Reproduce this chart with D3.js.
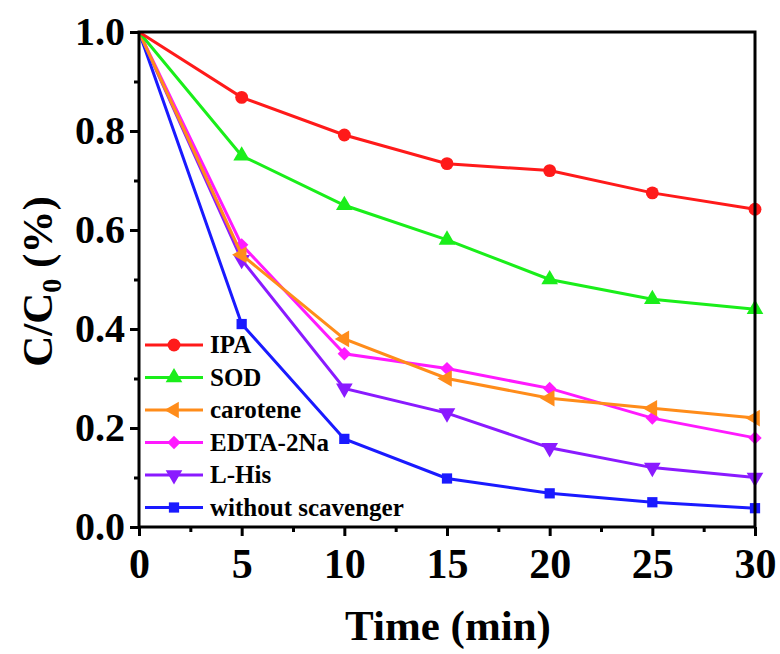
<!DOCTYPE html>
<html>
<head>
<meta charset="utf-8">
<script src="https://cdn.jsdelivr.net/npm/d3@7"></script>
<style>
  body { margin: 0; background: #fff; }
  svg text { font-family: "Liberation Serif", "Times New Roman", serif; font-weight: bold; }
</style>
</head>
<body>
<svg id="chart" width="780" height="654"></svg>
<script>
const times = [0, 5, 10, 15, 20, 25, 30];
const names = ['IPA', 'SOD', 'carotene', 'EDTA-2Na', 'L-His', 'without scavenger'];
const ipa      = [1, 0.868, 0.792, 0.734, 0.72, 0.675, 0.642];
const sod      = [1, 0.75, 0.65, 0.58, 0.50, 0.46, 0.44];
const carotene = [1, 0.55, 0.38, 0.30, 0.26, 0.24, 0.22];
const edta     = [1, 0.57, 0.35, 0.32, 0.28, 0.22, 0.18];
const lhis     = [1, 0.54, 0.28, 0.23, 0.16, 0.12, 0.10];
const without  = [1, 0.41, 0.178, 0.098, 0.068, 0.05, 0.038];
const xTicks = [0, 5, 10, 15, 20, 25, 30];
const yTicks = [0.0, 0.2, 0.4, 0.6, 0.8, 1.0];

const series = [ipa, sod, carotene, edta, lhis, without];
const colors = ['#ff1a1a', '#1aee1a', '#ff8c1a', '#ff1aff', '#8a1aff', '#1a1aff'];
const shapes = [d3.symbolCircle, d3.symbolTriangle, 'left', 'diamond', 'down', d3.symbolSquare];

let svg = d3.select('#chart');
let pLeft = 139, pRight = 755, pTop = 32, pBottom = 527;

let x = d3.scaleLinear().domain([0, 30]).range([pLeft, pRight]);
let y = d3.scaleLinear().domain([0, 1]).range([pBottom, pTop]);

// markers
function marker(g, shape, color) {
  if (shape === 'left') {
    g.append('path').attr('d', d3.symbol(d3.symbolTriangle, 120)()).attr('transform', 'rotate(-90)').attr('fill', color);
  } else if (shape === 'down') {
    g.append('path').attr('d', d3.symbol(d3.symbolTriangle, 120)()).attr('transform', 'rotate(180)').attr('fill', color);
  } else if (shape === 'diamond') {
    g.append('path').attr('d', d3.symbol(d3.symbolSquare, 90)()).attr('transform', 'rotate(45)').attr('fill', color);
  } else {
    let size = shape === d3.symbolCircle ? 130 : shape === d3.symbolSquare ? 105 : 120;
    g.append('path').attr('d', d3.symbol(shape, size)()).attr('fill', color);
  }
}

let line = d3.line().x((d, i) => x(times[i])).y(d => y(d));

// draw in reverse so IPA is on top
for (let k = series.length - 1; k >= 0; k--) {
  svg.append('path')
    .datum(series[k])
    .attr('d', line)
    .attr('fill', 'none')
    .attr('stroke', colors[k])
    .attr('stroke-width', 3);
  series[k].forEach((v, i) => {
    if (i === 0) return;
    let g = svg.append('g').attr('transform', `translate(${x(times[i])},${y(v)})`);
    marker(g, shapes[k], colors[k]);
  });
}

// axes
let xAxis = d3.axisBottom(x).tickValues(xTicks).tickSize(9).tickPadding(12).tickFormat(d3.format('d'));
let xMinor = d3.axisBottom(x).tickValues(d3.range(2.5, 30, 5)).tickSize(5).tickFormat('');
let yAxis = d3.axisLeft(y).tickValues(yTicks).tickSize(9).tickPadding(5).tickFormat(d3.format('.1f'));
let yMinor = d3.axisLeft(y).tickValues(d3.range(0.1, 1, 0.2)).tickSize(5).tickFormat('');

function style(g, fs) {
  g.select('.domain').remove();
  g.selectAll('line').attr('stroke', '#000').attr('stroke-width', 3);
  g.selectAll('text').attr('font-size', fs).attr('fill', '#000');
}

svg.append('g').attr('transform', `translate(0,${pBottom})`).call(xAxis).call(g => style(g, 42));
svg.append('g').attr('transform', `translate(0,${pBottom})`).call(xMinor).call(g => style(g, 0));
svg.append('g').attr('transform', `translate(${pLeft},0)`).call(yAxis).call(g => style(g, 40));
svg.append('g').attr('transform', `translate(${pLeft},0)`).call(yMinor).call(g => style(g, 0));

svg.append('rect')
  .attr('x', pLeft).attr('y', pTop)
  .attr('width', pRight - pLeft).attr('height', pBottom - pTop)
  .attr('fill', 'none').attr('stroke', '#000').attr('stroke-width', 3);

// axis titles
svg.append('text')
  .attr('x', 448).attr('y', 640)
  .attr('text-anchor', 'middle').attr('font-size', 43)
  .text('Time (min)');

let yt = svg.append('text')
  .attr('transform', `translate(52,${(pTop + pBottom) / 2 + 2}) rotate(-90)`)
  .attr('text-anchor', 'middle').attr('font-size', 43);
yt.append('tspan').text('C/C');
yt.append('tspan').attr('font-size', 28).attr('dy', 9).text('0');
yt.append('tspan').attr('dy', -9).text(' (%)');

// legend
let leg = svg.append('g');
names.forEach((n, i) => {
  let ly = 345 + i * 32.5;
  leg.append('line').attr('x1', 145).attr('x2', 203).attr('y1', ly).attr('y2', ly)
    .attr('stroke', colors[i]).attr('stroke-width', 3);
  let g = leg.append('g').attr('transform', `translate(174,${ly})`);
  marker(g, shapes[i], colors[i]);
  leg.append('text').attr('x', 210).attr('y', ly + 8)
    .attr('font-size', 25).text(n);
});
</script>
</body>
</html>
